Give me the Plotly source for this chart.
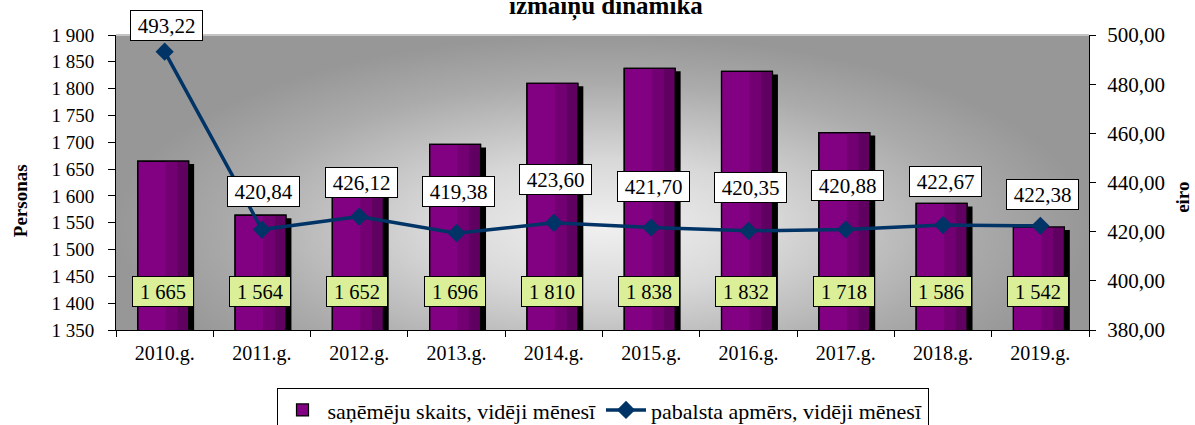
import plotly.graph_objects as go

years = ["2010.g.", "2011.g.", "2012.g.", "2013.g.", "2014.g.", "2015.g.", "2016.g.", "2017.g.", "2018.g.", "2019.g."]
recipients = [1665, 1564, 1652, 1696, 1810, 1838, 1832, 1718, 1586, 1542]
benefit = [493.22, 420.84, 426.12, 419.38, 423.60, 421.70, 420.35, 420.88, 422.67, 422.38]

name_bar = "saņēmēju skaits, vidēji mēnesī"
name_line = "pabalsta apmērs, vidēji mēnesī"
title_text = "izmaiņu dinamika"
ytitle_left = "Personas"
ytitle_right = "eiro"

# label vertical offsets (px) above line points, as placed in the reference
label_dy = [26, 38, 34, 42, 43, 41, 43, 44, 44, 31]

FONT = "Liberation Serif"
PURPLE = "#820082"
NAVY = "#003366"

W = 0.524          # bar width (category units)
OFF = -0.277       # bar offset
SH_DX = 0.056      # shadow horizontal shift
PX_PER_UNIT = 295 / 550.0
SH_DY = 3 / PX_PER_UNIT

fig = go.Figure()

# background radial gradient
fig.add_trace(go.Scatter(
    x=[0, 1, 1, 0, 0], y=[-0.3, -0.3, 1, 1, -0.3], mode="lines", fill="toself",
    line=dict(width=0), fillgradient=dict(type="radial",
        colorscale=[[0, "#f0f0f0"], [0.35, "#d8d8d8"], [0.75, "#ababab"], [1, "#979797"]]),
    hoverinfo="skip", showlegend=False, xaxis="x", yaxis="y"))

# shadows
fig.add_trace(go.Bar(x=years, y=recipients, width=W, offset=OFF + SH_DX,
    marker=dict(color="black", line=dict(width=0)), showlegend=False,
    hoverinfo="skip", xaxis="x2", yaxis="y2"))

# main bars
fig.add_trace(go.Bar(x=years, y=recipients, width=W, offset=OFF, name=name_bar,
    marker=dict(color=PURPLE, line=dict(color="black", width=1.2)),
    xaxis="x2", yaxis="y3"))
fig.add_trace(go.Bar(x=years, y=recipients, width=W * 0.24, offset=OFF + W * 0.55,
    marker=dict(color="#730073", line=dict(width=0)), showlegend=False,
    hoverinfo="skip", xaxis="x2", yaxis="y3"))
fig.add_trace(go.Bar(x=years, y=recipients, width=W * 0.22, offset=OFF + W * 0.78,
    marker=dict(color="#600060", line=dict(width=0)), showlegend=False,
    hoverinfo="skip", xaxis="x2", yaxis="y3"))
fig.add_trace(go.Bar(x=years, y=recipients, width=W, offset=OFF,
    marker=dict(color="rgba(0,0,0,0)", line=dict(color="black", width=1.2)),
    showlegend=False, hoverinfo="skip", xaxis="x2", yaxis="y3"))

# line
fig.add_trace(go.Scatter(x=years, y=benefit, mode="lines+markers", name=name_line,
    line=dict(color=NAVY, width=3.5),
    marker=dict(symbol="diamond", size=14, color=NAVY),
    xaxis="x2", yaxis="y4"))

def fmt_int(v):
    return f"{v:,}".replace(",", " ")

def fmt_dec(v):
    return f"{v:.2f}".replace(".", ",")

ann = []
for yr, v in zip(years, recipients):
    ann.append(dict(x=yr, y=0.078, xref="x2", yref="paper", text=fmt_int(v), showarrow=False,
        xshift=-2, font=dict(family=FONT, size=20.5, color="black"),
        bgcolor="#dbef98", bordercolor="black", borderwidth=1, borderpad=2,
        width=56, height=25))
for yr, v, dy in zip(years, benefit, label_dy):
    ann.append(dict(x=yr, y=v, xref="x2", yref="y4", text=fmt_dec(v), showarrow=False,
        yshift=dy, xshift=2, font=dict(family=FONT, size=21, color="black"),
        bgcolor="white", bordercolor="black", borderwidth=1, borderpad=2,
        width=67, height=25))
ann.append(dict(x=0.5, y=1.051, xref="paper", yref="paper", yanchor="bottom", xanchor="center",
    text=f"<b>{title_text}</b>", showarrow=False, xshift=3, yshift=-3,
    font=dict(family=FONT, size=25, color="black")))
ann.append(dict(x=-0.0987, y=0.44, xref="paper", yref="paper", text=f"<b>{ytitle_left}</b>",
    xanchor="center", yanchor="middle",
    textangle=-90, showarrow=False, font=dict(family=FONT, size=19, color="black")))
ann.append(dict(x=1.0965, y=0.451, xref="paper", yref="paper", text=f"<b>{ytitle_right}</b>",
    xanchor="center", yanchor="middle",
    textangle=-90, showarrow=False, font=dict(family=FONT, size=19, color="black")))

fig.update_layout(
    width=1195, height=425,
    margin=dict(l=116, r=106, t=35, b=95, autoexpand=False),
    paper_bgcolor="white", plot_bgcolor="rgba(0,0,0,0)",
    separators=", ",
    barmode="overlay",
    font=dict(family=FONT, size=19, color="black"),
    xaxis=dict(range=[0, 1], visible=False, fixedrange=True),
    yaxis=dict(range=[0, 1], visible=False, fixedrange=True),
    xaxis2=dict(overlaying="x", anchor="y3", type="category", categoryorder="array",
        categoryarray=years, range=[-0.5, 9.5], tickson="boundaries", ticks="outside",
        ticklen=6, tickcolor="black", showline=True, linecolor="black", linewidth=1,
        showgrid=False, automargin=False, ticklabelstandoff=5,
        tickfont=dict(family=FONT, size=20)),
    yaxis2=dict(overlaying="y", anchor="x2", range=[1350 + SH_DY, 1900 + SH_DY],
        visible=False),
    yaxis3=dict(overlaying="y", anchor="x2", side="left", range=[1350, 1900], dtick=50,
        tick0=1350, tickformat=",d", ticks="outside", ticklen=7, tickcolor="black",
        showline=True, linecolor="black", linewidth=1, showgrid=False, zeroline=False,
        automargin=False, ticklabelstandoff=10, tickfont=dict(family=FONT, size=19)),
    yaxis4=dict(overlaying="y", anchor="x2", side="right", range=[380, 500], dtick=20,
        tick0=380, tickformat=",.2f", ticks="outside", ticklen=6, tickcolor="black",
        showline=True, linecolor="black", linewidth=1, showgrid=False, zeroline=False,
        automargin=False, ticklabelstandoff=7, tickfont=dict(family=FONT, size=21)),
    legend=dict(orientation="h", x=0.5, xanchor="center", y=-0.197, yanchor="top",
        bordercolor="black", borderwidth=1, bgcolor="white", itemwidth=40,
        font=dict(family=FONT, size=22), traceorder="normal"),
    annotations=ann,
    shapes=[dict(type="line", xref="paper", yref="paper", x0=0, x1=1, y0=1, y1=1,
        line=dict(color="#c4c4c4", width=2))],
    showlegend=True,
)

fig.write_html("out.html", config={"displayModeBar": False},
               post_script="document.body.style.margin='0';")
